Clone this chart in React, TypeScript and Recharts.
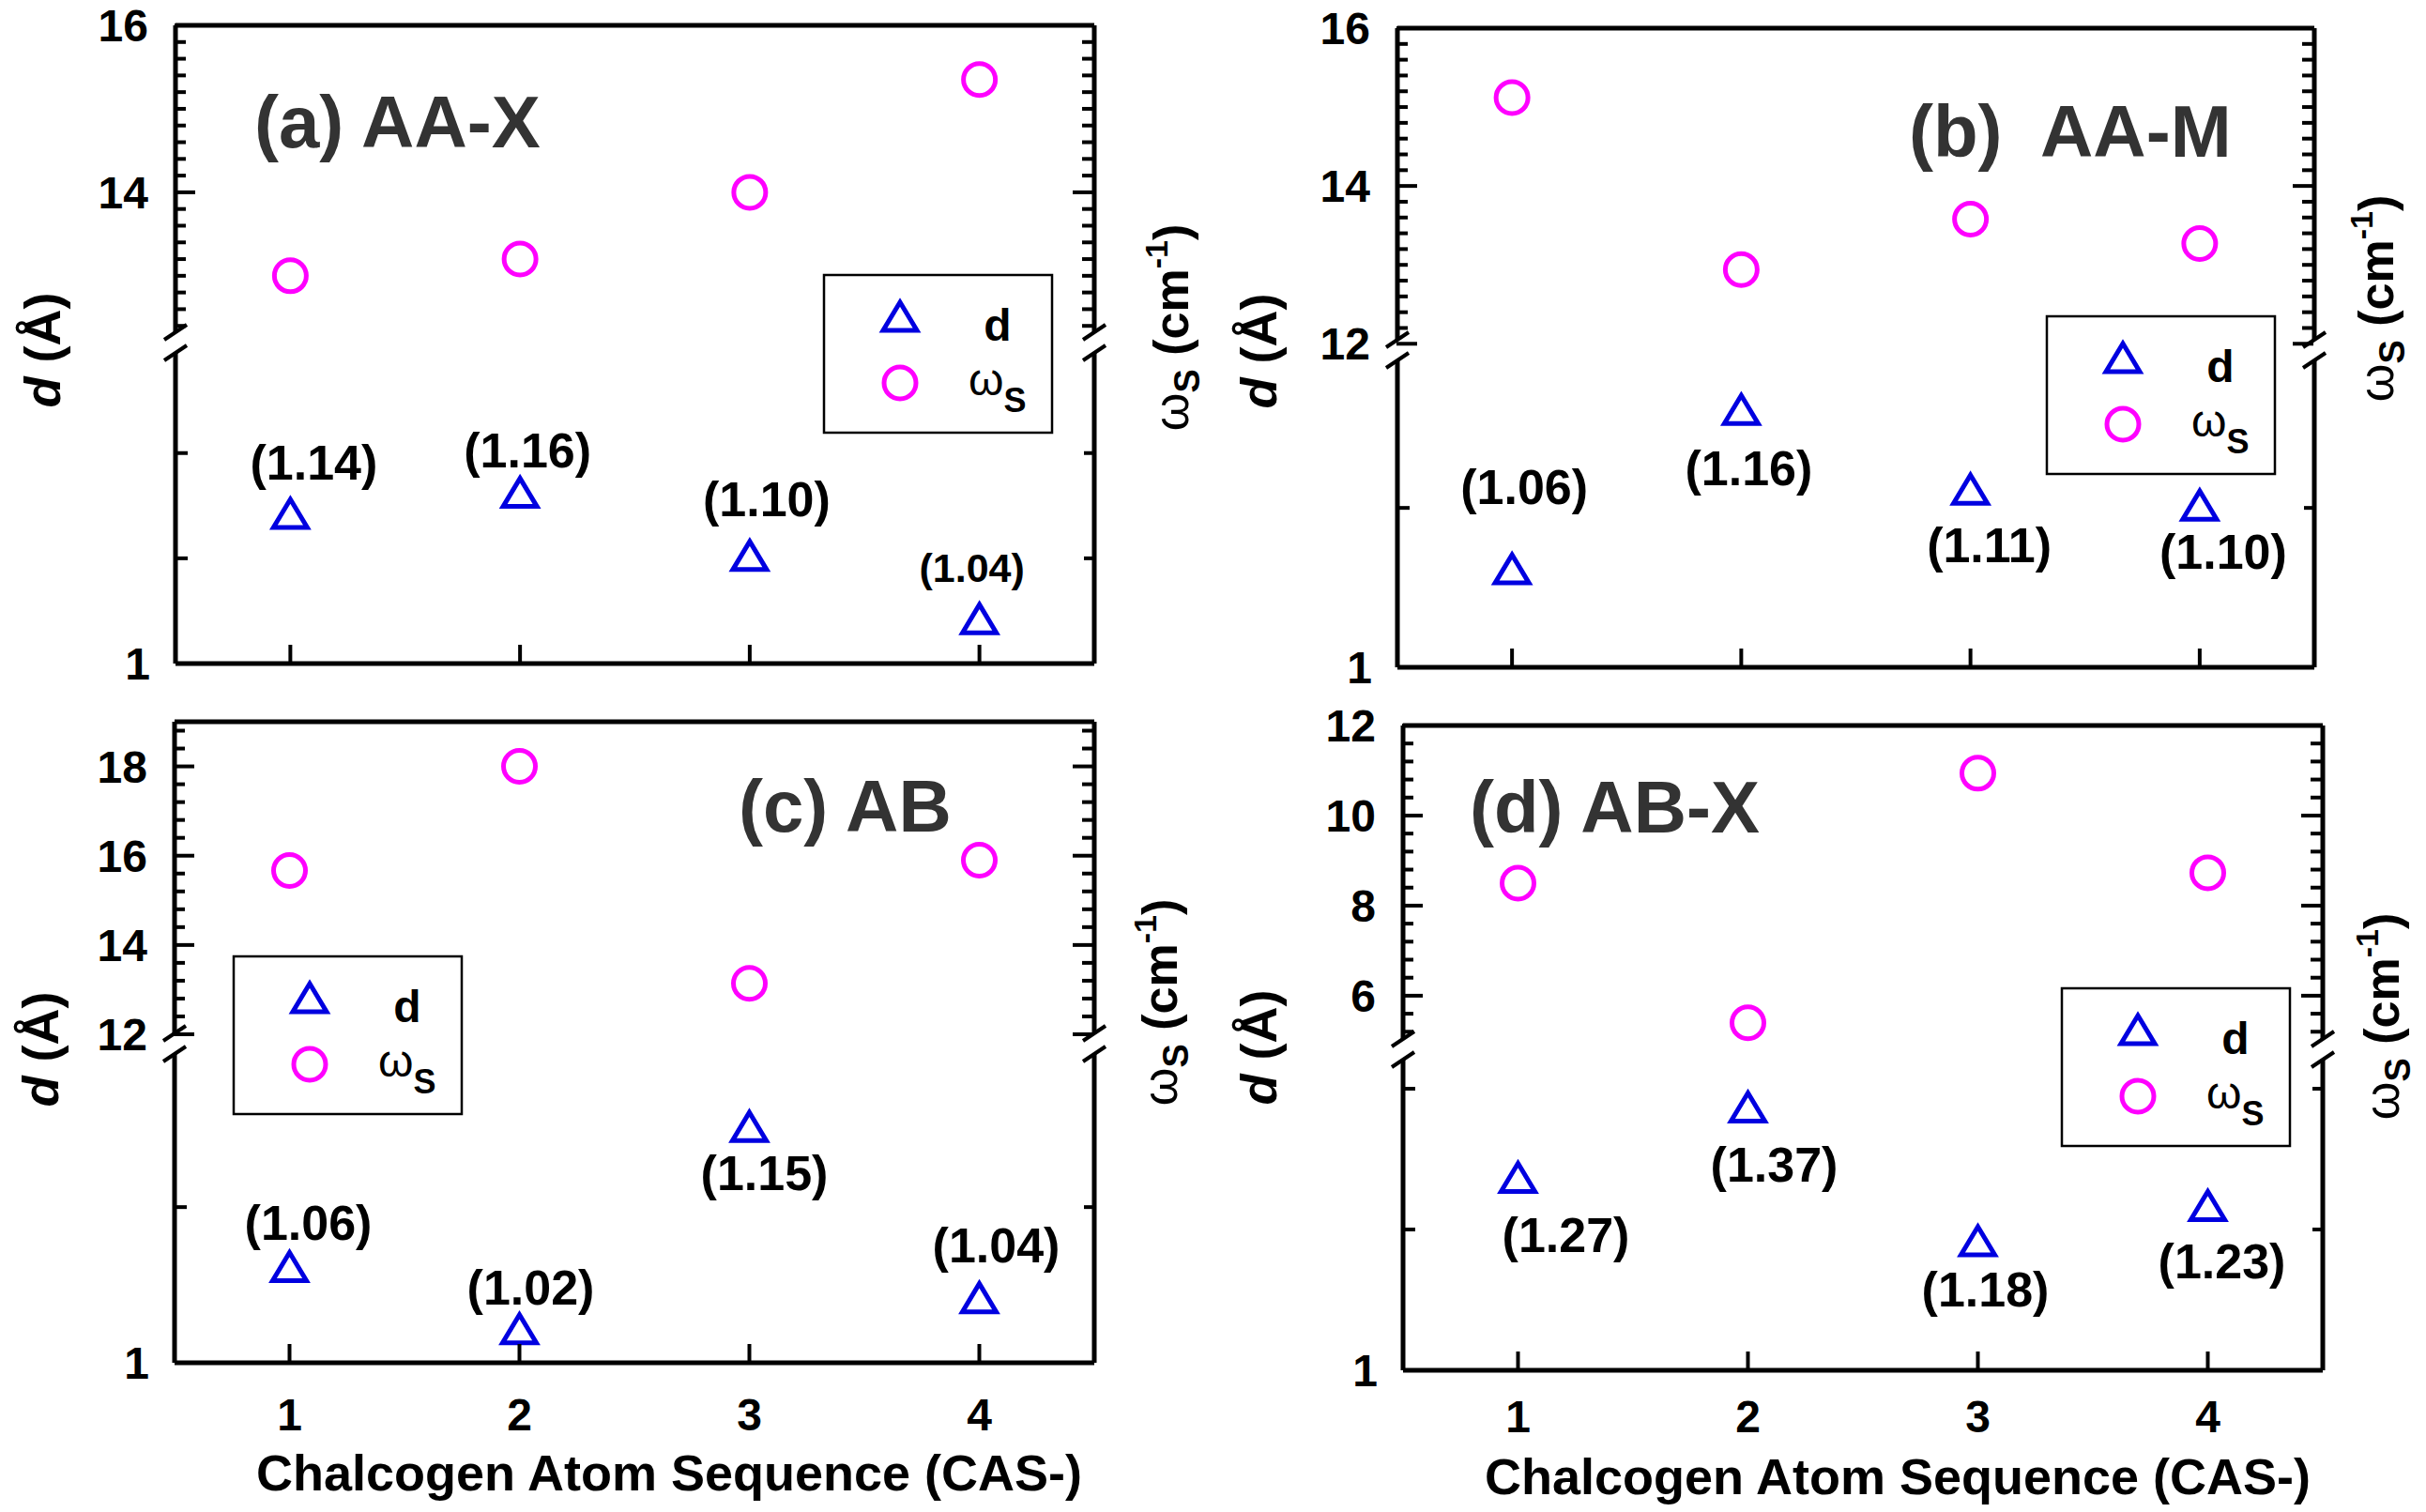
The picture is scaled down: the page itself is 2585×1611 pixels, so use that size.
import React from 'react';
import { ScatterChart, Scatter, XAxis, YAxis, ReferenceLine, ReferenceDot } from 'recharts';

const FONT = '"Liberation Sans", Arial, Helvetica, sans-serif';
const BLUE = '#0000e0';
const MAGENTA = '#ff00ff';

// chalcogen atom sequence (x axis)
const casSeq = [1, 2, 3, 4];

// interlayer distance d (Å), also printed next to every triangle
const dAAX = [1.14, 1.16, 1.1, 1.04];
const dAAM = [1.06, 1.16, 1.11, 1.1];
const dAB = [1.06, 1.02, 1.15, 1.04];
const dABX = [1.27, 1.37, 1.18, 1.23];

// shear mode frequency ωS (cm-1)
const wAAX = [13.0, 13.2, 14.0, 15.35];
const wAAM = [15.12, 12.94, 13.58, 13.27];
const wAB = [15.67, 18.0, 13.14, 15.9];
const wABX = [8.5, 5.4, 10.94, 8.73];

// labelled ticks of the upper (ωS) part of the axis
const wTicksAAX = [14, 16];
const wTicksAAM = [12, 14, 16];
const wTicksAB = [12, 14, 16, 18];
const wTicksABX = [6, 8, 10, 12];

// unlabelled ticks of the lower (d) part
const dTicksAAX = [1.1, 1.2];
const dTicksAAM = [1.1];
const dTicksAB = [1.1];
const dTicksABX = [1.2, 1.4];

// space round the plot area; two 1px left axes and a 1px x axis are taken off
const ML = 200;
const MT = 50;
const MR = 60;
const MB = 100;

const TICK_FONT = 48;

const panels = [
  {
    title: '(a) AA-X', titleX: 271, titleY: 157,
    d: dAAX, w: wAAX, wTicks: wTicksAAX, dTicks: dTicksAAX,
    wTop: 16, wBreak: 12.2, dBreak: 1.305, wStep: 0.2,
    frame: { x: 187, y: 27, w: 979, h: 680 }, breakY: 338,
    labelDx: [25, 8, 18, -8], labelDy: [-58, -48, -64, -58], labelSize: [52, 52, 52, 43],
    showX: false, xLabelDy: 74, xTitleY: 0, legend: { x: 878, y: 293 },
    dLabel: { x: 46, y: 373 }, wLabel: { x: 1248, y: 349 },
  },
  {
    title: '(b)\u00a0 AA-M', titleX: 2034, titleY: 167,
    d: dAAM, w: wAAM, wTicks: wTicksAAM, dTicks: dTicksAAM,
    wTop: 16, wBreak: 11.92, dBreak: 1.199, wStep: 0.2,
    frame: { x: 1489, y: 30, w: 977, h: 681 }, breakY: 343,
    labelDx: [13, 8, 20, 25], labelDy: [-91, 59, 56, 46], labelSize: [52, 52, 52, 52],
    showX: false, xLabelDy: 74, xTitleY: 0, legend: { x: 2181, y: 337 },
    dLabel: { x: 1342, y: 374 }, wLabel: { x: 2532, y: 318 },
  },
  {
    title: '(c) AB', titleX: 787, titleY: 886,
    d: dAB, w: wAB, wTicks: wTicksAB, dTicks: dTicksAB,
    wTop: 19.0, wBreak: 11.79, dBreak: 1.205, wStep: 0.4,
    frame: { x: 186, y: 769, w: 980, h: 683 }, breakY: 343,
    labelDx: [20, 12, 16, 18], labelDy: [-50, -48, 46, -59], labelSize: [52, 52, 52, 52],
    showX: true, xLabelDy: 72, xTitleY: 1588, legend: { x: 249, y: 1019 },
    dLabel: { x: 44, y: 1118 }, wLabel: { x: 1236, y: 1068 },
  },
  {
    title: '(d) AB-X', titleX: 1566, titleY: 887,
    d: dABX, w: wABX, wTicks: wTicksABX, dTicks: dTicksABX,
    wTop: 12, wBreak: 4.81, dBreak: 1.456, wStep: 0.4,
    frame: { x: 1495, y: 773, w: 980, h: 687 }, breakY: 345,
    labelDx: [51, 28, 8, 15], labelDy: [58, 58, 48, 56], labelSize: [52, 52, 52, 52],
    showX: true, xLabelDy: 66, xTitleY: 1592, legend: { x: 2197, y: 1053 },
    dLabel: { x: 1342, y: 1116 }, wLabel: { x: 2538, y: 1083 },
  },
];

const triPath = (cx: number, cy: number) =>
  `M${cx},${cy - 18} L${cx + 18},${cy + 12} L${cx - 18},${cy + 12} Z`;

function Panel({ p }: { p: any }) {
  const W = p.frame.w;
  const H = p.frame.h;
  const wPx = p.breakY / (p.wTop - p.wBreak);
  const wMin = p.wTop - H / wPx;
  const dPx = (H - p.breakY) / (p.dBreak - 1);
  const dMax = 1 + H / dPx;
  const gap = 11 / wPx;

  const wTickList: number[] = [];
  for (let k = Math.ceil((p.wBreak + 0.05) / p.wStep); k * p.wStep <= p.wTop + 1e-6; k++) {
    wTickList.push(Math.round(k * p.wStep * 100) / 100);
  }

  const dData = casSeq.map((x, i) => ({ x, d: p.d[i], i }));
  const wData = casSeq.map((x, i) => ({ x, w: p.w[i] }));

  const renderWTick = (props: any) => {
    const { x, y, payload } = props;
    const major = p.wTicks.some((m: number) => Math.abs(m - payload.value) < 1e-6);
    const len = major ? 22 : 12;
    return (
      <g>
        <line x1={x} y1={y} x2={x + len} y2={y} stroke="#000" strokeWidth={4} />
        <line x1={x + W} y1={y} x2={x + W - len} y2={y} stroke="#000" strokeWidth={4} />
        {major && (
          <text x={x - 28} y={y + 17} textAnchor="end" fontFamily={FONT} fontSize={TICK_FONT} fontWeight="bold" fill="#000">
            {payload.value}
          </text>
        )}
      </g>
    );
  };

  const renderDTick = (props: any) => {
    const { y, payload } = props;
    const x = props.x + 1;
    if (Math.abs(payload.value - 1) < 1e-6) {
      return (
        <text x={x - 28} y={y + 17} textAnchor="end" fontFamily={FONT} fontSize={TICK_FONT} fontWeight="bold" fill="#000">
          1
        </text>
      );
    }
    return (
      <g>
        <line x1={x} y1={y} x2={x + 12} y2={y} stroke="#000" strokeWidth={4} />
        <line x1={x + W} y1={y} x2={x + W - 12} y2={y} stroke="#000" strokeWidth={4} />
      </g>
    );
  };

  const renderXTick = (props: any) => {
    const { x, y, payload } = props;
    return (
      <g>
        <line x1={x} y1={y} x2={x} y2={y - 20} stroke="#000" strokeWidth={4} />
        {p.showX && (
          <text x={x} y={y + p.xLabelDy} textAnchor="middle" fontFamily={FONT} fontSize={TICK_FONT} fontWeight="bold" fill="#000">
            {payload.value}
          </text>
        )}
      </g>
    );
  };

  const renderBreak = (props: any) => {
    const { cx, cy } = props;
    return (
      <g>
        <line x1={cx - 12} y1={cy - 3} x2={cx + 12} y2={cy - 19} stroke="#000" strokeWidth={4} />
        <line x1={cx - 12} y1={cy + 19} x2={cx + 12} y2={cy + 3} stroke="#000" strokeWidth={4} />
      </g>
    );
  };

  const renderTriangle = (props: any) => {
    const { cx, cy, payload } = props;
    const i = payload.i;
    const size = p.labelSize[i];
    return (
      <g>
        <path d={triPath(cx, cy)} fill="none" stroke={BLUE} strokeWidth={5} strokeLinejoin="miter" />
        <text
          x={cx + p.labelDx[i]}
          y={cy + p.labelDy[i] + size * 0.36}
          textAnchor="middle"
          fontFamily={FONT}
          fontSize={size}
          fontWeight="bold"
          fill="#000"
        >
          {`(${p.d[i].toFixed(2)})`}
        </text>
      </g>
    );
  };

  const renderCircle = (props: any) => (
    <circle cx={props.cx} cy={props.cy} r={17} fill="none" stroke={MAGENTA} strokeWidth={5} />
  );

  const frameLine = { stroke: '#000', strokeWidth: 5, xAxisId: 'x', yAxisId: 'w', ifOverflow: 'visible' as const };

  return (
    <div style={{ position: 'absolute', left: p.frame.x - ML, top: p.frame.y - MT }}>
      <ScatterChart
        width={W + ML + MR}
        height={H + MT + MB}
        margin={{ left: ML - 2, top: MT, right: MR, bottom: MB - 1 }}
      >
        <XAxis
          xAxisId="x"
          type="number"
          dataKey="x"
          domain={[0.5, 4.5]}
          ticks={casSeq}
          interval={0}
          height={1}
          axisLine={false}
          tickLine={false}
          tickSize={0}
          tickMargin={0}
          tick={renderXTick}
          allowDataOverflow
        />
        <YAxis
          yAxisId="w"
          type="number"
          dataKey="w"
          domain={[wMin, p.wTop]}
          ticks={wTickList}
          interval={0}
          width={1}
          axisLine={false}
          tickLine={false}
          tickSize={0}
          tickMargin={0}
          tick={renderWTick}
          allowDataOverflow
        />
        <YAxis
          yAxisId="d"
          type="number"
          dataKey="d"
          domain={[1, dMax]}
          ticks={[1, ...p.dTicks]}
          interval={0}
          width={1}
          axisLine={false}
          tickLine={false}
          tickSize={0}
          tickMargin={0}
          tick={renderDTick}
          allowDataOverflow
        />
        <ReferenceLine {...frameLine} y={p.wTop} />
        <ReferenceLine {...frameLine} y={wMin} />
        <ReferenceLine {...frameLine} segment={[{ x: 0.5, y: wMin }, { x: 0.5, y: p.wBreak - gap }]} />
        <ReferenceLine {...frameLine} segment={[{ x: 0.5, y: p.wBreak + gap }, { x: 0.5, y: p.wTop }]} />
        <ReferenceLine {...frameLine} segment={[{ x: 4.5, y: wMin }, { x: 4.5, y: p.wBreak - gap }]} />
        <ReferenceLine {...frameLine} segment={[{ x: 4.5, y: p.wBreak + gap }, { x: 4.5, y: p.wTop }]} />
        <ReferenceDot xAxisId="x" yAxisId="w" x={0.5} y={p.wBreak} r={0} ifOverflow="visible" shape={renderBreak} />
        <ReferenceDot xAxisId="x" yAxisId="w" x={4.5} y={p.wBreak} r={0} ifOverflow="visible" shape={renderBreak} />
        <Scatter xAxisId="x" yAxisId="w" data={wData} shape={renderCircle} isAnimationActive={false} />
        <Scatter xAxisId="x" yAxisId="d" data={dData} shape={renderTriangle} isAnimationActive={false} />
      </ScatterChart>
    </div>
  );
}

function Legend({ x, y }: { x: number; y: number }) {
  return (
    <g>
      <rect x={x} y={y} width={243} height={168} fill="#fff" stroke="#000" strokeWidth={2.5} />
      <path d={triPath(x + 81, y + 47)} fill="none" stroke={BLUE} strokeWidth={5} />
      <text x={x + 185} y={y + 70} textAnchor="middle" fontFamily={FONT} fontSize={48} fontWeight="bold" fill="#000">
        d
      </text>
      <circle cx={x + 81} cy={y + 115} r={17} fill="none" stroke={MAGENTA} strokeWidth={5} />
      <text x={x + 154} y={y + 128} fontFamily={FONT} fontSize={48} fill="#000">
        ω
        <tspan dy={18} fontSize={36} fontWeight="bold">
          S
        </tspan>
      </text>
    </g>
  );
}

function Overlay() {
  return (
    <svg width={2585} height={1611} style={{ position: 'absolute', left: 0, top: 0, pointerEvents: 'none' }}>
      {panels.map((p, k) => (
        <g key={k}>
          <text x={p.titleX} y={p.titleY} fontFamily={FONT} fontSize={78} fontWeight="bold" fill="#333">
            {p.title}
          </text>
          <Legend x={p.legend.x} y={p.legend.y} />
          <text
            transform={`translate(${p.dLabel.x},${p.dLabel.y}) rotate(-90)`}
            y={18}
            textAnchor="middle"
            fontFamily={FONT}
            fontSize={54}
            fontWeight="bold"
            fill="#000"
          >
            <tspan fontStyle="italic">d</tspan>
            <tspan> (Å)</tspan>
          </text>
          <text
            transform={`translate(${p.wLabel.x},${p.wLabel.y}) rotate(-90)`}
            y={18}
            textAnchor="middle"
            fontFamily={FONT}
            fontSize={52}
            fill="#000"
          >
            <tspan>ω</tspan>
            <tspan fontSize={38} dy={12} fontWeight="bold">S</tspan>
            <tspan fontSize={52} dy={-12} fontWeight="bold">{' (cm'}</tspan>
            <tspan fontSize={34} dy={-22} fontWeight="bold">-1</tspan>
            <tspan fontSize={52} dy={22} fontWeight="bold">)</tspan>
          </text>
          {p.showX && (
            <text
              x={p.frame.x + p.frame.w / 2 + 37}
              y={p.xTitleY}
              textAnchor="middle"
              fontFamily={FONT}
              fontSize={54}
              fontWeight="bold"
              fill="#000"
            >
              Chalcogen Atom Sequence (CAS-)
            </text>
          )}
        </g>
      ))}
    </svg>
  );
}

export default function App() {
  return (
    <div style={{ position: 'absolute', left: 0, top: 0, width: 2585, height: 1611, background: '#fff', overflow: 'hidden' }}>
      {panels.map((p, k) => (
        <Panel key={k} p={p} />
      ))}
      <Overlay />
    </div>
  );
}
